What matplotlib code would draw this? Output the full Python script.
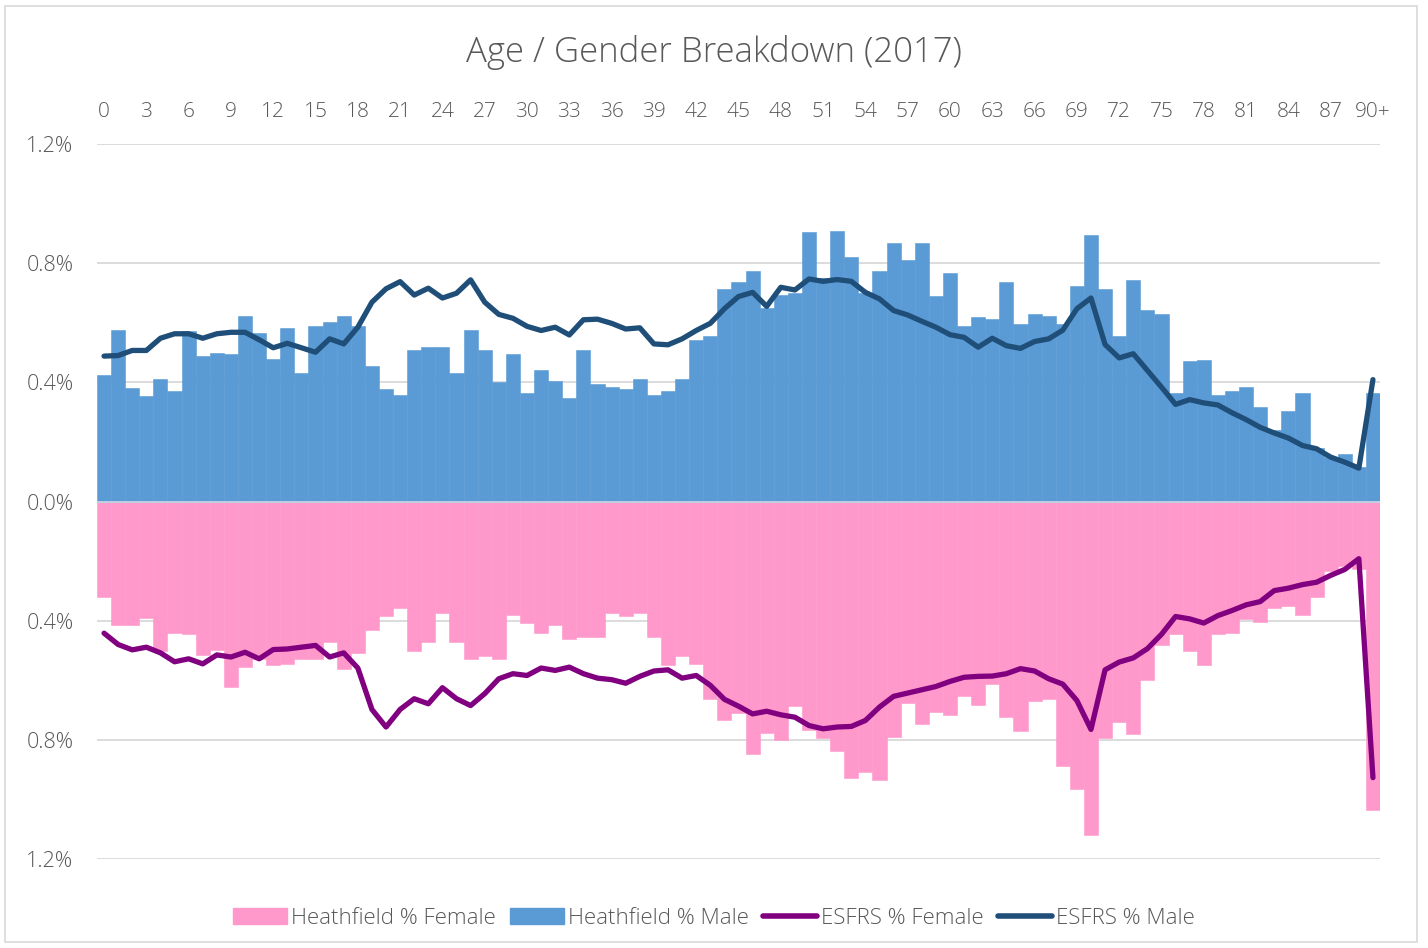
import numpy as np
import matplotlib
matplotlib.use("Agg")
import matplotlib.pyplot as plt
from matplotlib.patches import Rectangle, Patch
from matplotlib.lines import Line2D
from matplotlib.ticker import FuncFormatter

plt.rcParams['font.family'] = ['Open Sans', 'DejaVu Sans']
plt.rcParams['font.weight'] = 'light'

ages = [str(a) for a in range(90)] + ["90+"]

# Heathfield population share (%) by single year of age
male_bars = [0.425, 0.577, 0.381, 0.353, 0.412, 0.370, 0.572, 0.489, 0.500, 0.496,
             0.624, 0.566, 0.477, 0.583, 0.430, 0.590, 0.601, 0.624, 0.590, 0.454,
             0.377, 0.359, 0.507, 0.520, 0.520, 0.430, 0.577, 0.507, 0.400, 0.494,
             0.365, 0.441, 0.406, 0.347, 0.507, 0.394, 0.383, 0.377, 0.412, 0.359,
             0.370, 0.412, 0.541, 0.554, 0.714, 0.738, 0.773, 0.650, 0.694, 0.700,
             0.904, 0.749, 0.909, 0.821, 0.700, 0.774, 0.868, 0.809, 0.868, 0.691,
             0.767, 0.590, 0.618, 0.613, 0.738, 0.595, 0.630, 0.624, 0.595, 0.725,
             0.896, 0.714, 0.554, 0.743, 0.643, 0.630, 0.365, 0.471, 0.475, 0.359,
             0.370, 0.383, 0.318, 0.241, 0.305, 0.365, 0.180, 0.150, 0.158, 0.115,
             0.365]
female_bars = [0.321, 0.416, 0.416, 0.392, 0.503, 0.440, 0.445, 0.515, 0.500, 0.623,
               0.557, 0.530, 0.550, 0.545, 0.528, 0.528, 0.470, 0.563, 0.510, 0.433,
               0.386, 0.357, 0.503, 0.470, 0.375, 0.470, 0.528, 0.517, 0.528, 0.380,
               0.409, 0.440, 0.416, 0.463, 0.456, 0.456, 0.375, 0.386, 0.375, 0.456,
               0.550, 0.517, 0.546, 0.663, 0.734, 0.710, 0.847, 0.776, 0.800, 0.688,
               0.768, 0.793, 0.836, 0.928, 0.908, 0.935, 0.789, 0.676, 0.747, 0.706,
               0.718, 0.652, 0.682, 0.612, 0.724, 0.770, 0.670, 0.664, 0.888, 0.966,
               1.119, 0.794, 0.740, 0.782, 0.600, 0.481, 0.445, 0.503, 0.550, 0.445,
               0.440, 0.393, 0.404, 0.357, 0.351, 0.380, 0.321, 0.233, 0.216, 0.227,
               1.035]

# ESFRS comparison lines (%)
esfrs_male = [0.488, 0.490, 0.507, 0.507, 0.548, 0.563, 0.563, 0.548, 0.563, 0.568,
              0.568, 0.543, 0.516, 0.531, 0.516, 0.501, 0.546, 0.529, 0.585, 0.669,
              0.714, 0.738, 0.693, 0.716, 0.683, 0.699, 0.744, 0.669, 0.628, 0.615,
              0.588, 0.574, 0.585, 0.559, 0.610, 0.612, 0.598, 0.579, 0.583, 0.529,
              0.526, 0.546, 0.574, 0.598, 0.647, 0.688, 0.702, 0.655, 0.719, 0.710,
              0.747, 0.739, 0.745, 0.739, 0.702, 0.680, 0.641, 0.626, 0.605, 0.585,
              0.560, 0.551, 0.518, 0.548, 0.523, 0.514, 0.537, 0.546, 0.575, 0.647,
              0.683, 0.527, 0.482, 0.496, 0.440, 0.384, 0.326, 0.342, 0.331, 0.324,
              0.298, 0.275, 0.249, 0.230, 0.213, 0.188, 0.177, 0.149, 0.132, 0.112,
              0.409]
esfrs_female = [0.442, 0.480, 0.498, 0.489, 0.508, 0.538, 0.528, 0.545, 0.515, 0.522,
                0.506, 0.528, 0.497, 0.495, 0.489, 0.483, 0.522, 0.508, 0.559, 0.698,
                0.757, 0.698, 0.662, 0.679, 0.625, 0.662, 0.685, 0.645, 0.595, 0.578,
                0.584, 0.559, 0.567, 0.556, 0.578, 0.593, 0.598, 0.610, 0.587, 0.569,
                0.565, 0.593, 0.584, 0.617, 0.664, 0.687, 0.713, 0.704, 0.716, 0.724,
                0.752, 0.763, 0.757, 0.755, 0.735, 0.690, 0.654, 0.643, 0.632, 0.621,
                0.604, 0.590, 0.587, 0.586, 0.578, 0.561, 0.569, 0.595, 0.613, 0.668,
                0.765, 0.565, 0.539, 0.525, 0.494, 0.446, 0.386, 0.394, 0.408, 0.383,
                0.366, 0.347, 0.336, 0.299, 0.291, 0.279, 0.271, 0.248, 0.228, 0.192,
                0.927]

grey = '#595959'
c_fem_bar = '#FF99CC'
c_male_bar = '#5B9BD5'
c_fem_line = '#800080'
c_male_line = '#1F4E79'

fig = plt.figure(figsize=(14.28, 9.48), dpi=100)
ax = fig.add_axes([97/1428, 1 - 859/948, (1380 - 97)/1428, (859 - 144)/948])

x = np.arange(len(ages))
ax.bar(x, -np.array(female_bars), width=1.0, color=c_fem_bar, edgecolor=c_fem_bar, linewidth=0.4, zorder=2)
ax.bar(x, male_bars, width=1.0, color=c_male_bar, edgecolor=c_male_bar, linewidth=0.4, zorder=2)
ax.axhline(0, color='#d0d8e4', lw=1.2, zorder=3)
ax.plot(x, -np.array(esfrs_female), color=c_fem_line, lw=3.8, solid_capstyle='round', solid_joinstyle='round', zorder=4)
ax.plot(x, esfrs_male, color=c_male_line, lw=3.8, solid_capstyle='round', solid_joinstyle='round', zorder=4)

ax.set_xlim(-0.5, len(ages) - 0.5)
ax.set_ylim(-1.2, 1.2)
ax.set_yticks([-1.2, -0.8, -0.4, 0.0, 0.4, 0.8, 1.2])
ax.yaxis.set_major_formatter(FuncFormatter(lambda v, p: f"{abs(v):.1f}%"))
ax.yaxis.grid(True, color='#d9d9d9', lw=1.3, zorder=0)
ax.set_axisbelow(True)

ax.xaxis.tick_top()
ax.set_xticks(x[::3])
ax.set_xticklabels(ages[::3])
ax.tick_params(axis='x', length=0, pad=16, labelsize=15, labelcolor=grey)
ax.tick_params(axis='y', length=0, pad=17, labelsize=15.5, labelcolor=grey)
for s in ax.spines.values():
    s.set_visible(False)

fig.text(0.5, 1 - 53/948, "Age / Gender Breakdown (2017)", ha='center', va='center',
         fontsize=25, color=grey)

handles = [Patch(color=c_fem_bar), Patch(color=c_male_bar),
           Line2D([], [], color=c_fem_line, lw=4, solid_capstyle='round'),
           Line2D([], [], color=c_male_line, lw=4, solid_capstyle='round')]
labels = ["Heathfield % Female", "Heathfield % Male", "ESFRS % Female", "ESFRS % Male"]
leg = fig.legend(handles, labels, loc='center', bbox_to_anchor=(0.5, 1 - 918/948), ncol=4,
                 frameon=False, fontsize=16, handlelength=2.4, handleheight=0.7,
                 handletextpad=0.2, columnspacing=0.65)
for t in leg.get_texts():
    t.set_color(grey)

fig.patches.append(Rectangle((5/1428, 6/948), 1412/1428, 936/948, transform=fig.transFigure,
                             fill=False, edgecolor='#d9d9d9', lw=1.2))

fig.savefig("out.png", dpi=100, facecolor='white')
